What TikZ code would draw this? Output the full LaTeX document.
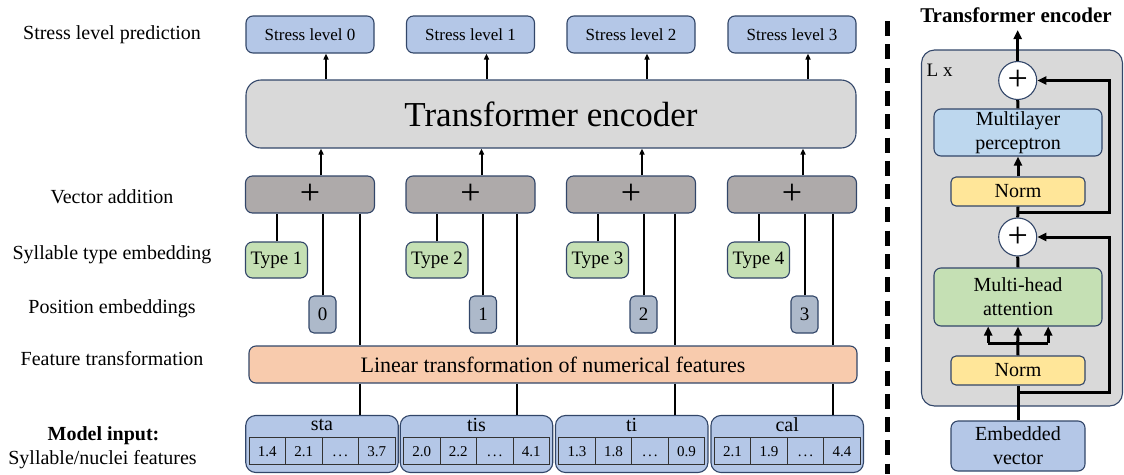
\documentclass[tikz,border=0pt]{standalone}
\usepackage{fontspec}
\setmainfont{Liberation Serif}
\usetikzlibrary{arrows.meta,calc}
\definecolor{bcol}{RGB}{50,70,105}
\definecolor{stressfill}{RGB}{180,199,231}
\definecolor{tegray}{RGB}{217,217,217}
\definecolor{plusgray}{RGB}{174,170,170}
\definecolor{typegreen}{RGB}{197,224,180}
\definecolor{posfill}{RGB}{173,185,202}
\definecolor{linfill}{RGB}{248,203,173}
\definecolor{mlpfill}{RGB}{189,215,238}
\definecolor{normfill}{RGB}{255,230,153}
\newcommand\fsz[2]{\fontsize{#1}{#2}\selectfont}
\begin{document}
\begin{tikzpicture}[x=1pt,y=-1pt,
  base/.style={draw=bcol, line width=1.1pt, rounded corners=7pt, inner sep=0pt, align=center, anchor=center},
  stressbox/.style={base, fill=stressfill, minimum width=128pt, minimum height=37pt, font=\fsz{17}{20}},
  tebox/.style={base, fill=tegray, rounded corners=15pt, minimum width=610pt, minimum height=68pt, font=\fsz{35}{40}},
  plusbox/.style={base, fill=plusgray, minimum width=129pt, minimum height=37pt, font=\fsz{36}{36}},
  typebox/.style={base, fill=typegreen, minimum width=62pt, minimum height=36pt, font=\fsz{19}{22}},
  posbox/.style={base, fill=posfill, rounded corners=5pt, minimum width=27pt, minimum height=37pt, font=\fsz{19}{22}},
  linbox/.style={base, fill=linfill, minimum width=608pt, minimum height=37pt, font=\fsz{22}{26}},
  inbox/.style={base, fill=stressfill, rounded corners=10pt, minimum width=152.5pt, minimum height=57pt},
  lbl/.style={font=\fsz{20}{24}, inner sep=0pt, anchor=center},
  cell/.style={font=\fsz{15}{18}, inner sep=0pt, anchor=center, text height=10.2pt, text depth=0pt},
  tab/.style={draw=black!80, line width=0.9pt},
  ln/.style={line width=2pt},
  arr/.style={line width=2pt, -{Triangle[length=6pt,width=5pt]}},
  bigbox/.style={base, fill=tegray, rounded corners=13pt, minimum width=201pt, minimum height=356pt},
  rbox/.style={base, font=\fsz{20}{24}},
  circ/.style={circle, draw=bcol, line width=1.1pt, fill=white, minimum size=38pt, inner sep=0pt, font=\fsz{36}{36}},
  tl/.style={line width=3pt},
  tarr/.style={line width=3pt, -{Triangle[length=9pt,width=8pt]}}
]
\useasboundingbox (0,0) rectangle (1124,474);

% left labels
\node[lbl] (lab1) at (112,35) {Stress level prediction};
\node[lbl] (lab2) at (112,197) {Vector addition};
\node[lbl] (lab3) at (112,255) {Syllable type embedding};
\node[lbl] (lab4) at (112,308.5) {Position embeddings};
\node[lbl] (lab5) at (112,359) {Feature transformation};
\node[lbl, font=\fsz{20}{24}\bfseries] (lab6) at (103.5,435.5) {Model input:};
\node[lbl] (lab7) at (102.5,460) {Syllable/nuclei features};

% main blocks
\node[tebox] (te) at (551,114) {Transformer encoder};
\node[linbox] (lin) at (553,364.5) {Linear transformation of numerical features};

% input boxes
\foreach \i/\cx/\w/\a/\b/\c in {0/322/sta/1.4/2.1/3.7, 1/476.5/tis/2.0/2.2/4.1, 2/631.7/ti/1.3/1.8/0.9, 3/787.2/cal/2.1/1.9/4.4} {
  \node[inbox] (in\i) at (\cx,444) {};
  \node[font=\fsz{20}{24}, inner sep=0pt] (w\i) at (\cx,425) {\w};
  \draw[tab] (\cx-73,437.5) rectangle (\cx+73,464);
  \draw[tab] (\cx-36.5,437.5) -- (\cx-36.5,464);
  \draw[tab] (\cx,437.5) -- (\cx,464);
  \draw[tab] (\cx+36.5,437.5) -- (\cx+36.5,464);
  \node[cell] (ca\i) at (\cx-54.75,451) {\a};
  \node[cell] (cb\i) at (\cx-18.25,451) {\b};
  \node[cell] (cc\i) at (\cx+18.25,451) {.\kern2pt.\kern2pt.};
  \node[cell] (cd\i) at (\cx+54.75,451) {\c};
}

% columns
\foreach \i/\cx/\lx/\t in {0/310/360/1, 1/470.5/517/2, 2/631/675/3, 3/792/833/4} {
  \node[stressbox] (s\i) at (\cx,34.5) {Stress level \i};
  \node[plusbox] (p\i) at (\cx,194.5) {+};
  \node[typebox] (t\i) at (\cx-33.5,260) {Type \t};
  \node[posbox] (q\i) at (\cx+12.5,314.5) {\i};
  \coordinate (L\i) at (\lx,0);
  \draw[arr] ([xshift=16pt]s\i.south |- te.north) -- ([xshift=16pt]s\i.south);
  \draw[arr] ([xshift=11pt]p\i.north) -- ([xshift=11pt]p\i.north |- te.south);
  \draw[ln] (t\i.north) -- (t\i.north |- p\i.south);
  \draw[ln] (q\i.north) -- (q\i.north |- p\i.south);
  \draw[ln] (L\i |- p\i.south) -- (L\i |- lin.north);
  \draw[ln] (L\i |- lin.south) -- (L\i |- in\i.north);
}

% separator
\coordinate (d1) at (887.7,21);
\coordinate (d2) at (887.7,474);
\draw[line width=4.5pt, dash pattern=on 15pt off 8.3pt] (d1) -- (d2);

% right panel
\node[font=\fsz{21}{24}\bfseries, inner sep=0pt] (rt) at (1016,15) {Transformer encoder};
\node[bigbox] (bb) at (1022,228) {};
\node[font=\fsz{19}{22}, inner sep=0pt, anchor=west] (lx) at (926.5,70) {L x};
\node[circ] (c1) at (1017.7,80.5) {+};
\node[rbox, fill=mlpfill, minimum width=168pt, minimum height=47pt] (mlp) at (1018,132.5) {Multilayer\\perceptron};
\node[rbox, fill=normfill, rounded corners=5pt, minimum width=134pt, minimum height=29pt] (n1) at (1018,191.5) {Norm};
\node[circ] (c2) at (1017.7,237) {+};
\node[rbox, fill=typegreen, minimum width=168pt, minimum height=58pt] (mha) at (1018,297) {Multi-head\\attention};
\node[rbox, fill=normfill, rounded corners=5pt, minimum width=134pt, minimum height=29pt] (n2) at (1018,370.5) {Norm};
\node[rbox, fill=stressfill, minimum width=134pt, minimum height=50pt] (emb) at (1018,446) {Embedded\\vector};

\coordinate (top) at (1017.7,30);
\coordinate (b1) at (1017.7,212);
\coordinate (r1) at (1109,212);
\coordinate (b2) at (1017.7,392);
\coordinate (r2) at (1109,392);
\coordinate (bar) at (1017.7,343);

\draw[tarr] (c1.north) -- (top);
\draw[tl] (mlp.north) -- (c1.south);
\draw[tarr] (n1.north) -- (mlp.south);
\draw[tl] (n1.south) -- (c2.north);
\draw[tarr, line join=miter] (b1) -- (r1) |- (c1.east);
\draw[tl] (c2.south) -- (mha.north);
\draw[tl] (n2.north) -- (bar);
\draw[tl, line cap=butt] ([xshift=-29.5pt]bar) -- ([xshift=30.5pt]bar);
\draw[tarr] ([xshift=-29.5pt]bar) -- ([xshift=-29.5pt]bar |- mha.south);
\draw[tarr] (bar) -- (mha.south);
\draw[tarr] ([xshift=30.5pt]bar) -- ([xshift=30.5pt]bar |- mha.south);
\draw[tl] (emb.north) -- (n2.south);
\draw[tarr, line join=miter] (b2) -- (r2) |- (c2.east);
\end{tikzpicture}
\end{document}
